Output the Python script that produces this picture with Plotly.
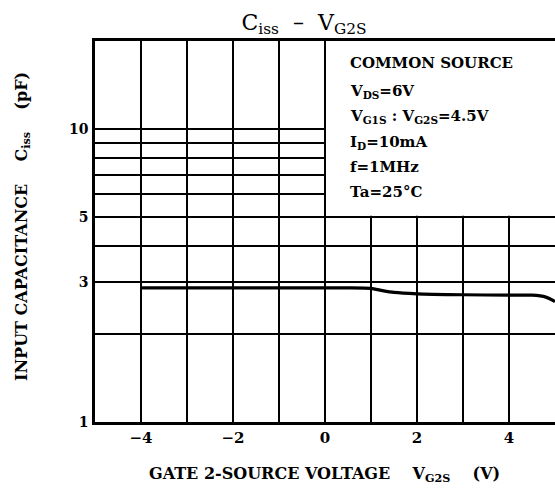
import plotly.graph_objects as go

vg2s = [-4, -3, -2, -1, 0, 0.5, 1.0, 1.25, 1.5, 2.0, 3.0, 4.0, 4.5, 4.8, 5.0]
ciss = [2.87, 2.87, 2.87, 2.87, 2.87, 2.87, 2.86, 2.81, 2.77, 2.74, 2.72, 2.71, 2.71, 2.67, 2.58]

y_tickvals = [1, 2, 3, 4, 5, 6, 7, 8, 9, 10, 20]
y_ticktext = ["1", "", "3", "", "5", "", "", "", "", "10", ""]
x_tickvals = [-5, -4, -3, -2, -1, 0, 1, 2, 3, 4, 5]
x_ticktext = ["", "\u22124", "", "\u22122", "", "0", "", "2", "", "4", ""]

cond_lines = [
    "COMMON SOURCE",
    "V<sub>DS</sub>=6V",
    "V<sub>G1S</sub> : V<sub>G2S</sub>=4.5V",
    "I<sub>D</sub>=10mA",
    "f=1MHz",
    "Ta=25\u00b0C",
]

FONT = "DejaVu Serif"
L, T, PW, PH = 95, 41, 460, 381
W, H = 555, 490

fig = go.Figure()
fig.add_trace(go.Scatter(x=vg2s, y=ciss, mode="lines",
                         line=dict(color="black", width=3.2, shape="spline", smoothing=0.6),
                         showlegend=False, hoverinfo="skip"))

fig.add_shape(type="rect", xref="x", yref="y", x0=0, x1=5.2, y0=5.06, y1=20,
              fillcolor="white", line=dict(width=0), layer="between")
fig.add_shape(type="line", xref="x", yref="y", x0=0, x1=0, y0=5, y1=20,
              line=dict(color="black", width=2), layer="between")

ys = [63, 91, 117, 142, 167, 192]
for txt, yy in zip(cond_lines, ys):
    fig.add_annotation(text="<b>" + txt + "</b>", xref="paper", yref="paper",
                       x=(348 - L) / PW, y=1 - (yy - T) / PH, xanchor="left", yanchor="middle",
                       showarrow=False, font=dict(family=FONT, size=15, color="black"))

# axis titles
fig.add_annotation(text="<b>GATE 2-SOURCE VOLTAGE    V<sub>G2S</sub>    (V)</b>",
                   xref="paper", yref="paper", x=(324 - L) / PW, y=-(475 - (T + PH)) / PH,
                   xanchor="center", yanchor="middle", showarrow=False,
                   font=dict(family=FONT, size=16, color="black"))
fig.add_annotation(text="<b>INPUT CAPACITANCE    C<sub>iss</sub>    (pF)</b>",
                   xref="paper", yref="paper", x=(22 - L) / PW, y=1 - (227 - T) / PH,
                   xanchor="center", yanchor="middle", showarrow=False, textangle=-90,
                   font=dict(family=FONT, size=16, color="black"))

fig.update_layout(
    width=W, height=H,
    margin=dict(l=L, r=0, t=T, b=H - T - PH),
    paper_bgcolor="white", plot_bgcolor="white",
    title=dict(text="C<sub>iss</sub>  \u2013  V<sub>G2S</sub>", x=304 / W, xanchor="center",
               y=1 - 22 / H, yanchor="middle",
               font=dict(family=FONT, size=22, color="black")),
    font=dict(family=FONT, color="black"),
)

fig.update_xaxes(range=[-5, 5.0], tickvals=x_tickvals, ticktext=x_ticktext,
                 showgrid=True, gridcolor="black", gridwidth=2,
                 showline=True, linecolor="black", linewidth=2.5, mirror=True,
                 ticks="", zeroline=False,
                 tickfont=dict(family=FONT, size=15, color="black", weight="bold"))

fig.update_yaxes(type="log", range=[0, 1.30103], tickvals=y_tickvals, ticktext=y_ticktext,
                 showgrid=True, gridcolor="black", gridwidth=1.6,
                 showline=True, linecolor="black", linewidth=2.5, mirror=False,
                 ticks="", zeroline=False, ticklabelstandoff=1,
                 tickfont=dict(family=FONT, size=14, color="black", weight="bold"))

fig.write_html("out.html", config={"displayModeBar": False},
               post_script="document.body.style.margin='0';document.body.style.overflow='hidden';")
